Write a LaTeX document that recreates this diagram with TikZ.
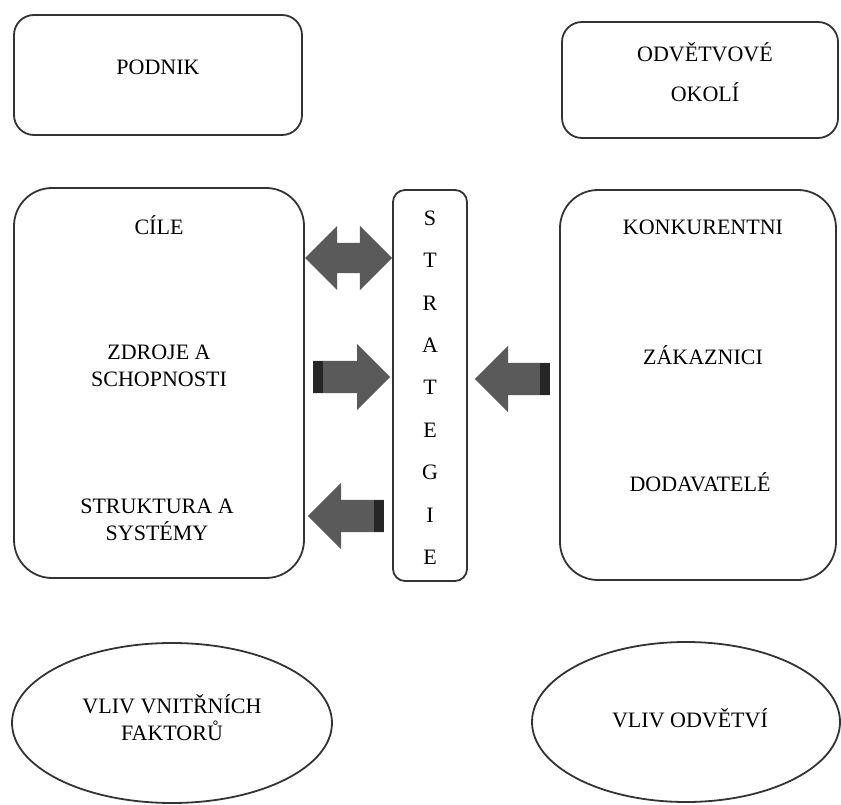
\documentclass[tikz,border=0pt]{standalone}
\usepackage{fontspec}
\setmainfont{Liberation Serif}
\usepackage{tikz}
\usetikzlibrary{shapes.geometric, shapes.arrows, positioning, calc}
\definecolor{RamecSeda}{HTML}{333333}
\definecolor{SipkaSeda}{HTML}{5A5A5A}
\definecolor{SipkaTmava}{HTML}{262626}

\begin{document}
\begin{tikzpicture}[x=1pt, y=1pt, every node/.style={font=\fontsize{22}{27}\selectfont}]
      \tikzset{
        blok/.style={rectangle, rounded corners=20pt, draw=RamecSeda, line width=1.8pt, inner sep=0pt},
        velkyblok/.style={blok, rounded corners=38pt},
        vliv/.style={ellipse, draw=RamecSeda, line width=1.8pt, inner sep=0pt},
        popis/.style={align=center, inner sep=0pt},
        sipka/.style={single arrow, fill=SipkaSeda, inner xsep=0pt, inner ysep=16pt, single arrow head extend=17pt, anchor=tail},
        dvojsipka/.style={double arrow, fill=SipkaSeda, inner xsep=0pt, inner ysep=15pt, double arrow head extend=17pt}
      }
      \useasboundingbox (0,0) rectangle (841,-805);

      % Boxes
      \node[blok, minimum width=288pt, minimum height=120pt] (podnik) at (158,-75) {};
      \node[blok, minimum width=276pt, minimum height=116pt] (okoli) at (700,-80) {};
      \node[velkyblok, minimum width=290pt, minimum height=390pt] (firma) at (159,-383) {};
      \node[blok, rounded corners=12pt, minimum width=74pt, minimum height=391pt] (strat) at (430,-385.5) {};
      \node[velkyblok, minimum width=276pt, minimum height=390pt] (odvetvi) at (698,-385) {};
      \node[vliv, minimum width=320pt, minimum height=160pt] (vnitrni) at (172,-723) {};
      \node[vliv, minimum width=308pt, minimum height=160pt] (vnejsi) at (686,-722) {};

      % Texts
      \node[popis] (tpodnik) at (podnik) [yshift=8pt] {PODNIK};
      \node[popis, font=\fontsize{22}{40}\selectfont] (tokoli) at (705,-72) {ODVĚTVOVÉ\\OKOLÍ};
      \node[popis] (cile) at (159,-225) {CÍLE};
      \node[popis] (zdroje) at (159,-366) {ZDROJE A\\SCHOPNOSTI};
      \node[popis] (struktura) at (157,-520) {STRUKTURA A\\SYSTÉMY};
      \node[popis] (konk) at (703,-227) {KONKURENTNI};
      \node[popis] (zak) at (703,-355) {ZÁKAZNICI};
      \node[popis] (dod) at (700,-482) {DODAVATELÉ};
      \node[popis] (tvnitrni) at (172,-718) {VLIV VNITŘNÍCH\\FAKTORŮ};
      \node[popis] (tvnejsi) at (690,-718) {VLIV ODVĚTVÍ};
      \foreach \pismeno [count=\i from 0] in {S,T,R,A,T,E,G,I,E}
        \node[popis] (s\i) at (430,{-218-42.4*\i}) {\pismeno};

      % Arrows
      \node[dvojsipka, minimum height=87pt] (cilesipka) at (348.5,-258) {};
      \node[sipka, minimum height=77pt] (zdrojesipka) at (313,-377) {};
      \node[sipka, shape border rotate=180, minimum height=75pt] (zaksipka) at (550,-379) {};
      \node[sipka, shape border rotate=180, minimum height=76pt] (struksipka) at (384,-516) {};
      \fill[SipkaTmava] ($(zdrojesipka.tail)+(0,16)$) rectangle ++(10,-32);
      \fill[SipkaTmava] ($(zaksipka.tail)+(-10,16)$) rectangle ++(10,-32);
      \fill[SipkaTmava] ($(struksipka.tail)+(-10,16)$) rectangle ++(10,-32);

    \end{tikzpicture}
\end{document}
